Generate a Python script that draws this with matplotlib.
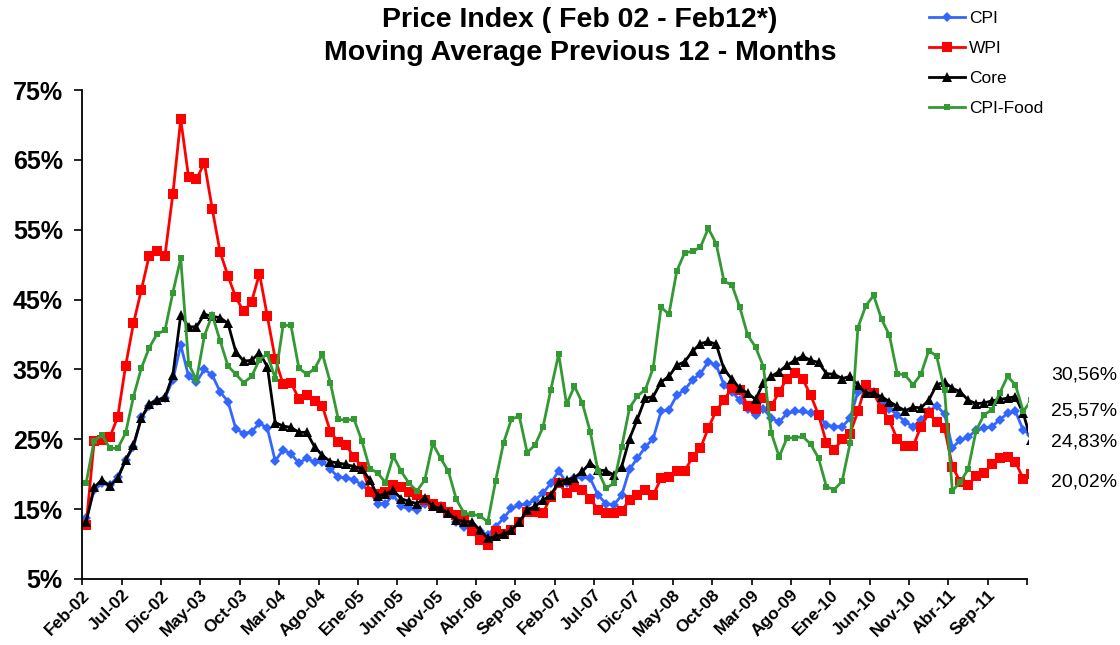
import numpy as np
import matplotlib
matplotlib.use('Agg')
import matplotlib.pyplot as plt
from matplotlib.transforms import ScaledTranslation

plt.rcParams['font.family'] = ['Liberation Sans', 'DejaVu Sans']

# 12-month moving average (%), monthly from Feb-02 to Feb-12
cpi = [13.7, 17.7, 18.7, 18.5, 19.6, 22.0, 23.9, 28.2, 29.7, 30.5,
       30.9, 33.5, 38.5, 34.0, 33.2, 35.0, 34.2, 31.8, 30.4, 26.5,
       25.8, 26.1, 27.3, 26.6, 21.9, 23.5, 22.9, 21.6, 22.3, 21.7,
       21.8, 20.7, 19.6, 19.5, 19.2, 18.5, 17.5, 15.8, 15.8, 17.0,
       15.4, 15.1, 14.9, 15.8, 15.6, 15.4, 14.4, 13.1, 12.5, 12.4,
       11.8, 11.3, 12.5, 13.7, 15.1, 15.6, 15.8, 16.3, 17.3, 18.7,
       20.5, 18.7, 19.5, 19.6, 19.4, 17.0, 15.8, 15.6, 17.0, 20.7,
       22.3, 23.9, 25.1, 29.0, 29.2, 31.3, 32.1, 33.5, 34.4, 36.1,
       35.6, 32.8, 31.8, 30.6, 29.4, 28.5, 29.4, 28.0, 27.5, 28.7,
       29.0, 29.0, 28.7, 28.5, 27.0, 26.8, 26.8, 28.0, 31.8, 32.0,
       31.8, 30.4, 29.4, 28.5, 27.5, 26.8, 27.8, 29.0, 29.8, 28.6,
       23.8, 24.9, 25.3, 26.3, 26.6, 26.8, 27.8, 28.7, 29.0, 26.3,
       25.57]
wpi = [12.8, 24.7, 24.9, 25.3, 28.2, 35.5, 41.6, 46.4, 51.3, 52.0,
       51.3, 60.1, 70.8, 62.5, 62.2, 64.6, 58.0, 51.8, 48.4, 45.3,
       43.3, 44.7, 48.7, 42.6, 36.5, 32.9, 33.1, 30.8, 31.4, 30.5,
       29.7, 26.1, 24.6, 24.2, 22.4, 21.1, 17.5, 17.2, 17.5, 18.5,
       18.1, 17.4, 17.0, 16.3, 15.8, 15.3, 14.6, 14.2, 13.6, 11.8,
       10.6, 9.9, 11.8, 11.5, 12.0, 13.2, 14.6, 14.6, 14.4, 16.8,
       18.7, 17.3, 18.1, 17.7, 16.5, 14.9, 14.5, 14.5, 14.8, 16.3,
       17.0, 17.7, 17.0, 19.4, 19.6, 20.4, 20.4, 22.5, 23.7, 26.6,
       29.1, 30.6, 32.4, 32.1, 29.8, 29.3, 30.9, 29.7, 31.8, 33.7,
       34.5, 33.6, 31.3, 28.5, 24.5, 23.5, 25.0, 25.8, 29.0, 32.8,
       31.6, 29.4, 27.7, 25.0, 24.0, 24.0, 26.8, 28.7, 27.5, 26.6,
       21.1, 18.9, 18.5, 19.7, 20.2, 21.4, 22.3, 22.4, 21.8, 19.3,
       20.02]
core = [13.2, 18.1, 19.2, 18.3, 19.4, 22.0, 24.2, 28.0, 30.1, 30.6,
        31.0, 34.2, 42.8, 41.1, 41.1, 42.9, 42.6, 42.4, 41.6, 37.5,
        36.2, 36.3, 37.4, 35.4, 27.4, 26.9, 26.7, 26.0, 26.0, 23.9,
        22.7, 21.8, 21.6, 21.4, 21.1, 20.8, 19.2, 16.9, 17.2, 17.7,
        16.5, 16.1, 15.8, 16.6, 15.4, 15.1, 14.4, 13.5, 13.2, 13.2,
        12.0, 10.8, 11.1, 11.4, 12.0, 13.1, 14.9, 15.4, 16.3, 17.0,
        18.9, 19.2, 19.5, 20.4, 21.6, 20.6, 20.5, 19.9, 21.1, 25.1,
        27.9, 30.9, 31.1, 33.2, 34.0, 35.6, 36.1, 37.6, 38.7, 39.0,
        38.6, 35.0, 33.6, 32.3, 31.6, 30.7, 33.1, 34.0, 34.7, 35.6,
        36.3, 36.9, 36.3, 36.0, 34.4, 34.3, 33.7, 34.0, 32.8, 31.6,
        31.6, 31.1, 30.4, 29.7, 29.1, 29.6, 29.5, 30.6, 32.8, 33.2,
        32.3, 31.8, 30.6, 30.1, 30.2, 30.5, 30.7, 30.9, 31.1, 28.7,
        24.83]
cpi_food = [18.8, 24.8, 25.6, 23.7, 23.7, 25.9, 31.1, 35.2, 38.1, 40.1,
            40.6, 46.0, 50.9, 35.8, 33.5, 39.8, 42.8, 39.1, 35.5, 34.3,
            33.1, 34.0, 36.4, 37.2, 33.7, 41.3, 41.3, 35.2, 34.3, 35.1,
            37.2, 33.1, 27.9, 27.7, 27.9, 24.8, 20.8, 20.2, 18.8, 22.6,
            20.4, 18.7, 17.6, 19.2, 24.4, 22.3, 20.4, 16.4, 14.4, 14.3,
            14.0, 13.2, 19.1, 24.5, 27.9, 28.3, 23.1, 24.2, 26.7, 32.1,
            37.2, 30.0, 32.6, 30.2, 26.1, 20.5, 18.0, 18.7, 23.9, 29.5,
            31.2, 32.1, 35.2, 43.9, 42.9, 49.1, 51.7, 51.9, 52.5, 55.2,
            53.0, 47.6, 47.1, 43.9, 39.9, 38.2, 35.4, 25.9, 22.5, 25.2,
            25.2, 25.4, 24.3, 22.3, 18.2, 17.8, 19.0, 24.4, 41.0, 44.1,
            45.6, 42.2, 39.9, 34.4, 34.2, 32.8, 34.3, 37.7, 36.9, 32.0,
            17.6, 18.9, 20.7, 26.2, 28.5, 29.2, 31.6, 34.0, 32.8, 29.0,
            30.56]

tick_labels = ['Feb-02', 'Jul-02', 'Dic-02', 'May-03', 'Oct-03', 'Mar-04',
               'Ago-04', 'Ene-05', 'Jun-05', 'Nov-05', 'Abr-06', 'Sep-06',
               'Feb-07', 'Jul-07', 'Dic-07', 'May-08', 'Oct-08', 'Mar-09',
               'Ago-09', 'Ene-10', 'Jun-10', 'Nov-10', 'Abr-11', 'Sep-11']

# last values written at the right side (CPI-Food, CPI, Core, WPI)
end_labels = ['30,56%', '25,57%', '24,83%', '20,02%']
end_label_y = [375, 411, 442, 482]

months = np.arange(len(cpi))
W, H = 1120, 645

fig = plt.figure(figsize=(W / 100, H / 100), dpi=100)
ax = fig.add_axes([82.3 / W, 1 - 579 / H, (1027.6 - 82.3) / W, (579 - 90) / H])

ax.plot(months, cpi, color='#3366FF', lw=2, marker='D', markersize=5.5,
        markeredgewidth=0, label='CPI')
ax.plot(months, wpi, color='#FF0000', lw=2, marker='s', markersize=6.5,
        markeredgewidth=0, label='WPI')
ax.plot(months, core, color='black', lw=2, marker='^', markersize=7.5,
        markeredgewidth=0, label='Core')
ax.plot(months, cpi_food, color='#339933', lw=2, marker='s', markersize=4.8,
        markeredgewidth=0, label='CPI-Food')

ax.set_xlim(-0.5, 119.55)
ax.set_ylim(5, 75)

# axes look
for s in ['top', 'right']:
    ax.spines[s].set_visible(False)
ax.spines['left'].set_linewidth(1.3)
ax.spines['bottom'].set_linewidth(1.3)
ax.spines['bottom'].set_bounds(-0.5, 119.5)

yt = list(range(5, 76, 10))
ax.set_yticks(yt)
ax.set_yticklabels(['%d%%' % v for v in yt], fontsize=18, fontweight='bold')
ax.tick_params(axis='y', length=6, width=1.2, pad=8)

ax.set_xticks(months[:120:5])
ax.set_xticklabels(tick_labels, rotation=45, ha='right',
                   rotation_mode='anchor', fontsize=12.5, fontweight='bold')
ax.tick_params(axis='x', which='major', length=0, pad=6)
ax.set_xticks(np.arange(-0.5, 120, 5), minor=True)
ax.tick_params(axis='x', which='minor', length=4, width=1.2)
shift = ScaledTranslation(-3 / 72, 0, fig.dpi_scale_trans)
for lab in ax.get_xticklabels():
    lab.set_transform(lab.get_transform() + shift)

# title
fig.text(580 / W, 1 - 20 / H, 'Price Index ( Feb 02 - Feb12*)',
         ha='center', va='center', fontsize=20.5, fontweight='bold')
fig.text(580 / W, 1 - 53 / H, 'Moving Average Previous 12 - Months',
         ha='center', va='center', fontsize=20.5, fontweight='bold')

# legend
fig.legend(loc='upper left', bbox_to_anchor=(929 / W, 1 - 11 / H),
           frameon=False, fontsize=12.5, numpoints=1, handlelength=2.1,
           handletextpad=0.2, labelspacing=0.85, borderpad=0,
           borderaxespad=0)

for txt, yy in zip(end_labels, end_label_y):
    fig.text(1051 / W, 1 - yy / H, txt, ha='left', va='center', fontsize=14)

plt.savefig('out.png', dpi=100)
